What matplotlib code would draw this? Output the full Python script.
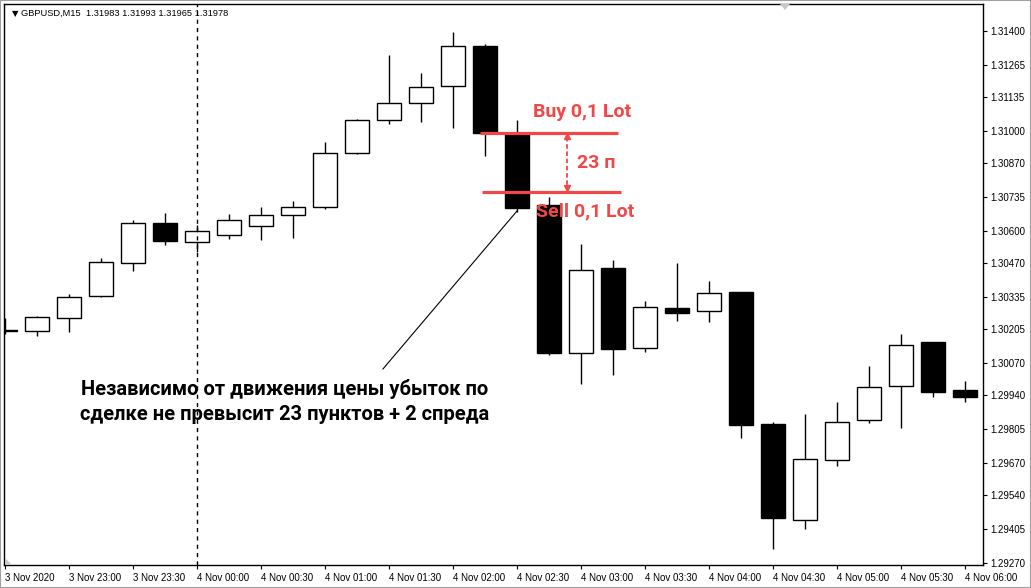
import matplotlib
matplotlib.use("Agg")
import matplotlib.pyplot as plt
from matplotlib.patches import Rectangle, Polygon

# ---- data (GBPUSD M15, 3 Nov 22:30 .. 4 Nov 06:00) ----
opens  = [1.30204, 1.30197, 1.30249, 1.30337, 1.30469, 1.30630, 1.30556, 1.30582,
          1.30620, 1.30662, 1.30694, 1.30910, 1.31042, 1.31110, 1.31178, 1.31340,
          1.30993, 1.30703, 1.30111, 1.30449, 1.30129, 1.30289, 1.30280, 1.30354,
          1.29826, 1.29440, 1.29680, 1.29840, 1.29978, 1.30154, 1.29960]
highs  = [1.30250, 1.30258, 1.30345, 1.30489, 1.30643, 1.30670, 1.30621, 1.30668,
          1.30696, 1.30719, 1.30955, 1.31049, 1.31304, 1.31233, 1.31396, 1.31348,
          1.31043, 1.30736, 1.30547, 1.30483, 1.30320, 1.30472, 1.30399, 1.30356,
          1.29834, 1.29866, 1.29914, 1.30058, 1.30186, 1.30156, 1.29998]
lows   = [1.30186, 1.30179, 1.30195, 1.30334, 1.30440, 1.30544, 1.30515, 1.30567,
          1.30563, 1.30572, 1.30687, 1.30908, 1.31029, 1.31037, 1.31013, 1.30900,
          1.30676, 1.30103, 1.29985, 1.30023, 1.30115, 1.30239, 1.30235, 1.29771,
          1.29324, 1.29404, 1.29659, 1.29830, 1.29810, 1.29934, 1.29914]
closes = [1.30200, 1.30253, 1.30333, 1.30473, 1.30630, 1.30560, 1.30598, 1.30643,
          1.30663, 1.30695, 1.30910, 1.31043, 1.31110, 1.31174, 1.31339, 1.30993,
          1.30692, 1.30111, 1.30443, 1.30127, 1.30293, 1.30272, 1.30349, 1.29823,
          1.29449, 1.29684, 1.29832, 1.29973, 1.30142, 1.29954, 1.29934]

x_tick_labels = ["3 Nov 2020", "3 Nov 23:00", "3 Nov 23:30", "4 Nov 00:00", "4 Nov 00:30",
                 "4 Nov 01:00", "4 Nov 01:30", "4 Nov 02:00", "4 Nov 02:30", "4 Nov 03:00",
                 "4 Nov 03:30", "4 Nov 04:00", "4 Nov 04:30", "4 Nov 05:00", "4 Nov 05:30",
                 "4 Nov 06:00"]
y_ticks = [1.31400, 1.31265, 1.31135, 1.31000, 1.30870, 1.30735, 1.30600, 1.30470,
           1.30335, 1.30205, 1.30070, 1.29940, 1.29805, 1.29670, 1.29540, 1.29405, 1.29270]

buy_level = 1.30993
sell_level = 1.30756
header = "GBPUSD,M15  1.31983 1.31993 1.31965 1.31978"
note = "Независимо от движения цены убыток по\nсделке не превысит 23 пунктов + 2 спреда"

RED = "#F04848"
small_font = ["Liberation Sans", "DejaVu Sans"]

fig = plt.figure(figsize=(10.31, 5.88), dpi=100)
fig.patch.set_facecolor("white")
ax = fig.add_axes([4 / 1031, 1 - 565 / 588, (983 - 4) / 1031, (565 - 4) / 588])
ax.set_xlim(-0.03, 30.56)
ax.set_ylim(1.292608, 1.315082)

w = 0.74
for i, (o, h, l, c) in enumerate(zip(opens, highs, lows, closes)):
    ax.vlines(i, l, h, color="black", lw=1.0, zorder=2)
    bottom = min(o, c)
    height = max(abs(c - o), 0.00004)
    face = "white" if c >= o else "black"
    ax.add_patch(Rectangle((i - w / 2, bottom), w, height, facecolor=face,
                           edgecolor="black", lw=1.0, zorder=3))

# vertical dotted separator at 4 Nov 00:00
ax.axvline(6, color="black", lw=1.0, ls=(0, (3, 3)), zorder=4)

# buy / sell levels
ax.hlines([buy_level, sell_level], [14.84, 14.9], [19.16, 19.25], color=RED, lw=2.3, zorder=5)
ax.plot([17.56, 17.56], [buy_level - 0.00016, sell_level + 0.00016], color=RED, lw=1.3,
        ls=(0, (2.5, 1.5)), zorder=5)
ax.plot([17.56], [buy_level - 0.00014], marker="^", color=RED, ms=5, zorder=5)
ax.plot([17.56], [sell_level + 0.00014], marker="v", color=RED, ms=5, zorder=5)

lbl = dict(color=RED, fontsize=14, family="Roboto", weight="bold",
           ha="center", va="center", zorder=6)
ax.text(18.03, 1.31074, "Buy 0,1 Lot", **lbl)
ax.text(18.47, 1.30873, "23 п", **lbl)
ax.text(18.12, 1.30677, "Sell 0,1 Lot", **lbl)

# explanatory note with pointer line
ax.plot([11.81, 16.0], [1.30046, 1.30679], color="black", lw=0.8, zorder=5)
ax.text(8.75, 1.29914, note, color="black", fontsize=14.5, family="Roboto",
        weight="bold", ha="center", va="center", linespacing=1.4, zorder=6)

# header
ax.text(0.008, 0.983, "▼", transform=ax.transAxes, fontsize=6, family="DejaVu Sans",
        ha="left", va="center")
ax.text(0.017, 0.983, header, transform=ax.transAxes, fontsize=6.7, family=small_font,
        ha="left", va="center")

# axes styling
for s in ax.spines.values():
    s.set_color("black")
    s.set_linewidth(1.0)
ax.yaxis.tick_right()
ax.set_yticks(y_ticks)
ax.set_yticklabels([f"{v:.5f}" for v in y_ticks], fontsize=7, family=small_font)
ax.set_xticks(range(0, 31, 2))
ax.set_xticklabels(x_tick_labels, fontsize=7, family=small_font, ha="left")
ax.tick_params(axis="both", direction="out", length=3, width=0.8, color="black", pad=2)
ax.tick_params(axis="x", pad=3)

# decorative MT4 markers
fig.patches.append(Polygon([[780 / 1031, 1 - 4 / 588], [790 / 1031, 1 - 4 / 588],
                            [785 / 1031, 1 - 10 / 588]], closed=True,
                           transform=fig.transFigure, facecolor="#c8c8c8", edgecolor="none"))
fig.patches.append(Polygon([[5 / 1031, 1 - 558 / 588], [5 / 1031, 1 - 564 / 588],
                            [11 / 1031, 1 - 564 / 588]], closed=True,
                           transform=fig.transFigure, facecolor="#c8c8c8", edgecolor="none"))
# outer frame
fig.patches.append(Rectangle((0, 0), 1, 1, transform=fig.transFigure, fill=False,
                             edgecolor="#a0a0a0", lw=1.5))

fig.savefig("out.png", dpi=100)
